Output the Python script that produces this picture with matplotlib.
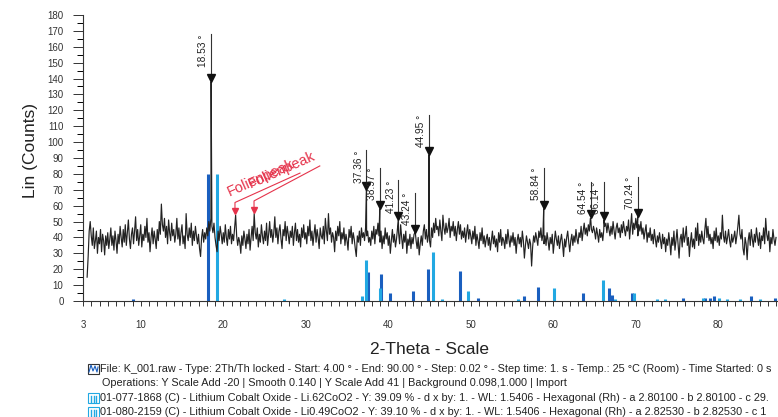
import matplotlib
matplotlib.use("Agg")
import matplotlib.pyplot as plt
import numpy as np
from matplotlib.patches import Rectangle
from matplotlib.lines import Line2D
from matplotlib.ticker import FixedLocator, MultipleLocator

plt.rcParams['font.family'] = ['Liberation Sans', 'DejaVu Sans']

# measured scan, 0.125 deg steps from 3.5 deg
scan_start = 3.5
scan_step = 0.125
scan_counts = [
    15, 28, 44, 50,
    41, 35, 46, 33, 38, 44, 30, 40,   # 4
    36, 45, 31, 42, 38, 29, 41, 35,   # 5
    43, 33, 39, 46, 35, 41, 32, 44,   # 6
    38, 30, 42, 36, 47, 40, 34, 45,   # 7
    37, 48, 35, 43, 51, 39, 33, 42,   # 8
    46, 36, 44, 53, 38, 45, 35, 41,   # 9
    48, 34, 42, 38, 47, 40, 52, 37,   # 10
    43, 31, 40, 46, 36, 44, 39, 33,   # 11
    45, 38, 50, 42, 61, 48, 44, 52,   # 12
    40, 47, 36, 51, 43, 38, 49, 41,   # 13
    45, 37, 42, 52, 39, 46, 35, 43,   # 14
    48, 36, 41, 33, 55, 42, 38, 46,   # 15
    40, 49, 35, 44, 38, 47, 41, 36,   # 16
    42, 33, 28, 40, 45, 37, 43, 39,   # 17
    46, 41, 50, 44, 52, 47, 43, 49,   # 18
    40, 35, 31, 44, 38, 47, 42, 36,   # 19
    43, 37, 48, 40, 35, 45, 39, 47,   # 20
    36, 42, 38, 46, 54, 41, 35, 40,   # 21
    37, 30, 41, 35, 44, 39, 33, 42,   # 22
    36, 45, 32, 40, 47, 38, 55, 43,   # 23
    39, 46, 34, 42, 37, 48, 41, 36,   # 24
    44, 38, 49, 35, 42, 50, 40, 45,   # 25
    37, 43, 53, 40, 46, 36, 44, 48,   # 26
    39, 33, 45, 41, 50, 38, 47, 42,   # 27
    36, 44, 40, 47, 35, 43, 49, 38,   # 28
    45, 37, 42, 34, 46, 40, 48, 39,   # 29
    43, 36, 47, 41, 51, 38, 44, 35,   # 30
    42, 48, 37, 45, 40, 33, 46, 41,   # 31
    39, 47, 36, 52, 44, 38, 55, 42,   # 32
    46, 37, 43, 40, 31, 44, 38, 47,   # 33
    41, 50, 36, 43, 39, 46, 35, 42,   # 34
    38, 32, 45, 40, 47, 36, 43, 39,   # 35
    33, 28, 41, 37, 44, 35, 46, 40,   # 36
    43, 38, 46, 41, 44, 37, 40, 35,   # 37
    44, 39, 47, 36, 45, 42, 49, 41,   # 38
    37, 44, 33, 41, 36, 46, 39, 43,   # 39
    35, 41, 30, 38, 45, 37, 42, 34,   # 40
    39, 46, 43, 36, 48, 40, 33, 42,   # 41
    37, 44, 30, 39, 35, 42, 33, 40,   # 42
    36, 42, 45, 38, 33, 40, 29, 36,   # 43
    41, 35, 44, 48, 39, 45, 37, 42,   # 44
    38, 34, 46, 40, 49, 43, 52, 45,   # 45
    47, 41, 51, 44, 38, 54, 46, 42,   # 46
    49, 43, 46, 52, 40, 47, 44, 50,   # 47
    41, 47, 38, 45, 50, 42, 48, 39,   # 48
    44, 40, 46, 37, 43, 48, 39, 45,   # 49
    41, 36, 44, 39, 47, 35, 42, 38,   # 50
    33, 43, 38, 46, 36, 41, 34, 39,   # 51
    42, 35, 40, 32, 38, 44, 36, 41,   # 52
    34, 39, 31, 43, 37, 45, 35, 40,   # 53
    38, 33, 42, 36, 45, 39, 34, 41,   # 54
    37, 43, 35, 40, 30, 38, 42, 36,   # 55
    40, 34, 44, 38, 27, 35, 41, 37,   # 56
    33, 39, 36, 22, 34, 41, 37, 43,   # 57
    39, 35, 44, 40, 46, 38, 42, 36,   # 58
    41, 35, 43, 38, 32, 40, 36, 42,   # 59
    30, 37, 44, 39, 35, 41, 33, 38,   # 60
    42, 36, 28, 39, 34, 40, 44, 37,   # 61
    31, 38, 42, 35, 41, 37, 45, 39,   # 62
    36, 43, 40, 47, 38, 44, 49, 42,   # 63
    46, 41, 48, 44, 52, 45, 43, 47,   # 64
    44, 39, 46, 42, 37, 45, 40, 43,   # 65
    38, 45, 47, 49, 43, 49, 45, 41,   # 66
    47, 42, 50, 44, 39, 46, 49, 43,   # 67
    46, 40, 48, 43, 50, 45, 41, 47,   # 68
    44, 51, 39, 47, 55, 42, 49, 45,   # 69
    52, 46, 41, 48, 44, 50, 42, 46,   # 70
    39, 44, 48, 37, 43, 40, 46, 38,   # 71
    42, 36, 45, 39, 34, 41, 37, 43,   # 72
    38, 33, 42, 36, 40, 31, 39, 35,   # 73
    43, 37, 29, 40, 35, 44, 32, 38,   # 74
    45, 36, 27, 39, 42, 34, 46, 37,   # 75
    41, 47, 35, 40, 28, 37, 43, 34,   # 76
    39, 33, 46, 38, 49, 35, 42, 37,   # 77
    44, 39, 36, 45, 52, 40, 47, 38,   # 78
    42, 36, 40, 33, 44, 38, 46, 37,   # 79
    41, 35, 43, 39, 54, 41, 37, 44,   # 80
    36, 40, 45, 38, 34, 42, 37, 40,   # 81
    44, 36, 41, 47, 54, 42, 39, 45,   # 82
    33, 29, 40, 36, 26, 38, 43, 35,   # 83
    45, 39, 34, 42, 37, 46, 40, 35,   # 84
    43, 33, 41, 38, 46, 36, 52, 42,   # 85
    38, 44, 31, 40, 36, 45, 39, 35,   # 86
    40,
]

# marked peaks
peak_pos = [18.53, 37.36, 38.97, 41.23, 43.24, 44.95, 58.84, 64.54, 66.14, 70.24]
peak_counts = [138, 70, 58, 51, 43, 92, 58, 52, 51, 53]
peak_label_top = [168, 95, 84, 76, 68, 117, 84, 75, 75, 78]

# foil peaks (red marks)
foil_pos = [21.42, 23.73]
foil_counts = [54, 55]

# reference patterns
ref1_pos = [9.0, 18.2, 37.5, 39.1, 40.2, 43.0, 44.8, 48.7, 50.9, 56.5, 58.2,
            63.6, 66.8, 67.1, 69.6, 75.7, 78.4, 79.0, 79.5, 84.0, 86.9]
ref1_int = [1, 80, 18, 17, 5, 6, 20, 19, 2, 3, 9,
            5, 8, 4, 5, 2, 2, 2, 3, 3, 2]
ref2_pos = [19.2, 27.4, 36.8, 37.3, 39.0, 45.4, 46.5, 49.7, 55.7, 60.1, 66.0,
            67.5, 69.8, 72.6, 73.5, 78.2, 80.1, 81.0, 82.6, 85.0]
ref2_int = [80, 1, 3, 26, 8, 31, 1, 6, 1, 8, 13,
            1, 5, 1, 1, 2, 2, 1, 1, 1]

x_ticks = [3, 10, 20, 30, 40, 50, 60, 70, 80, 90]

info_lines = [
    "File: K_001.raw - Type: 2Th/Th locked - Start: 4.00 \u00b0 - End: 90.00 \u00b0 - Step: 0.02 \u00b0 - Step time: 1. s - Temp.: 25 \u00b0C (Room) - Time Started: 0 s",
    "Operations: Y Scale Add -20 | Smooth 0.140 | Y Scale Add 41 | Background 0.098,1.000 | Import",
    "01-077-1868 (C) - Lithium Cobalt Oxide - Li.62CoO2 - Y: 39.09 % - d x by: 1. - WL: 1.5406 - Hexagonal (Rh) - a 2.80100 - b 2.80100 - c 29.",
    "01-080-2159 (C) - Lithium Cobalt Oxide - Li0.49CoO2 - Y: 39.10 % - d x by: 1. - WL: 1.5406 - Hexagonal (Rh) - a 2.82530 - b 2.82530 - c 1",
]

dark_blue = '#1a5fbf'
light_blue = '#22a8e2'
red = '#e5334b'

fig = plt.figure(figsize=(7.78, 4.17), dpi=100)
ax = fig.add_axes([83 / 778, 1 - 301 / 417, 695 / 778, 286 / 417])

# reference sticks
ax.vlines(ref1_pos, 0, ref1_int, color=dark_blue, lw=2.2)
ax.vlines(ref2_pos, 0, ref2_int, color=light_blue, lw=2.2)

# scan trace with peak maxima merged in
scan_theta = scan_start + scan_step * np.arange(len(scan_counts))
theta = np.concatenate([scan_theta, peak_pos])
counts = np.concatenate([scan_counts, peak_counts])
order = np.argsort(theta)
ax.plot(theta[order], counts[order], color='#222222', lw=0.85)

# peak markers and labels
for p, c, top in zip(peak_pos, peak_counts, peak_label_top):
    ax.plot([p, p], [c + 2, top], color='#333333', lw=0.8)
    ax.plot(p, c + 2.5, marker='v', color='#111111', ms=5.5)
    ax.annotate(f"{p:.2f} \u00b0", (p, top), xytext=(-2, 0), textcoords='offset points',
                rotation=90, ha='right', va='top', fontsize=7.3, color='#222222')

# foil peaks
foil_elbow = [62, 63]
foil_end = [(29.3, 80.5), (31.7, 85)]
foil_text = [(20.9, 64.5), (23.4, 69.0)]
for p, c, e, end, tp in zip(foil_pos, foil_counts, foil_elbow, foil_end, foil_text):
    ax.plot(p, c + 2.5, marker='v', color=red, ms=5)
    ax.plot([p, p, end[0]], [c + 4, e, end[1]], color=red, lw=0.8)
    ax.text(tp[0], tp[1], "Folienpeak", rotation=24, rotation_mode='anchor',
            ha='left', va='bottom', fontsize=10.5, color=red)

ax.set_xlim(3, 87.24)
ax.set_ylim(0, 180)
ax.xaxis.set_major_locator(FixedLocator(x_ticks))
ax.xaxis.set_minor_locator(MultipleLocator(1))
ax.yaxis.set_major_locator(MultipleLocator(10))
ax.yaxis.set_minor_locator(MultipleLocator(5))
ax.tick_params(axis='y', which='major', length=7, width=0.7, pad=7, labelsize=7, colors='#333333')
ax.tick_params(axis='y', which='minor', length=4, width=0.7)
ax.tick_params(axis='x', which='both', length=3.5, width=0.7, pad=10, labelsize=7, colors='#333333')
for s in ['top', 'right']:
    ax.spines[s].set_visible(False)
for s in ['left', 'bottom']:
    ax.spines[s].set_linewidth(0.8)
    ax.spines[s].set_color('#333333')

fig.text(30 / 778, 1 - 150 / 417, "Lin (Counts)", rotation=90, ha='center', va='center',
         fontsize=12.5, color='#222222')
fig.text(430 / 778, 1 - 350 / 417, "2-Theta - Scale", ha='center', va='center',
         fontsize=12.5, color='#222222')

# info block
line_y = [369, 383, 398, 412]
line_x = [100, 102, 100, 100]
for txt, y, x in zip(info_lines, line_y, line_x):
    fig.text(x / 778, 1 - y / 417, txt, ha='left', va='center', fontsize=7.8, color='#222222')


# small icons
def fx(px):
    return px / 778


def fy(py):
    return 1 - py / 417


fig.add_artist(Rectangle((fx(88), fy(374)), 11 / 778, 10 / 417, fill=False, ec='#333333', lw=0.8))
fig.add_artist(Line2D([fx(89), fx(91), fx(93), fx(95), fx(97), fx(98)],
                      [fy(372), fy(365), fy(371), fy(366), fy(372), fy(367)],
                      color='#1a5fbf', lw=0.8))
for y in [398, 412]:
    fig.add_artist(Rectangle((fx(88), fy(y + 5)), 11 / 778, 10 / 417, fill=False, ec=light_blue, lw=0.8))
    for bx in [91, 93.5, 96]:
        fig.add_artist(Line2D([fx(bx), fx(bx)], [fy(y + 4), fy(y - 2)], color=light_blue, lw=1))

fig.savefig("out.png", dpi=100)
